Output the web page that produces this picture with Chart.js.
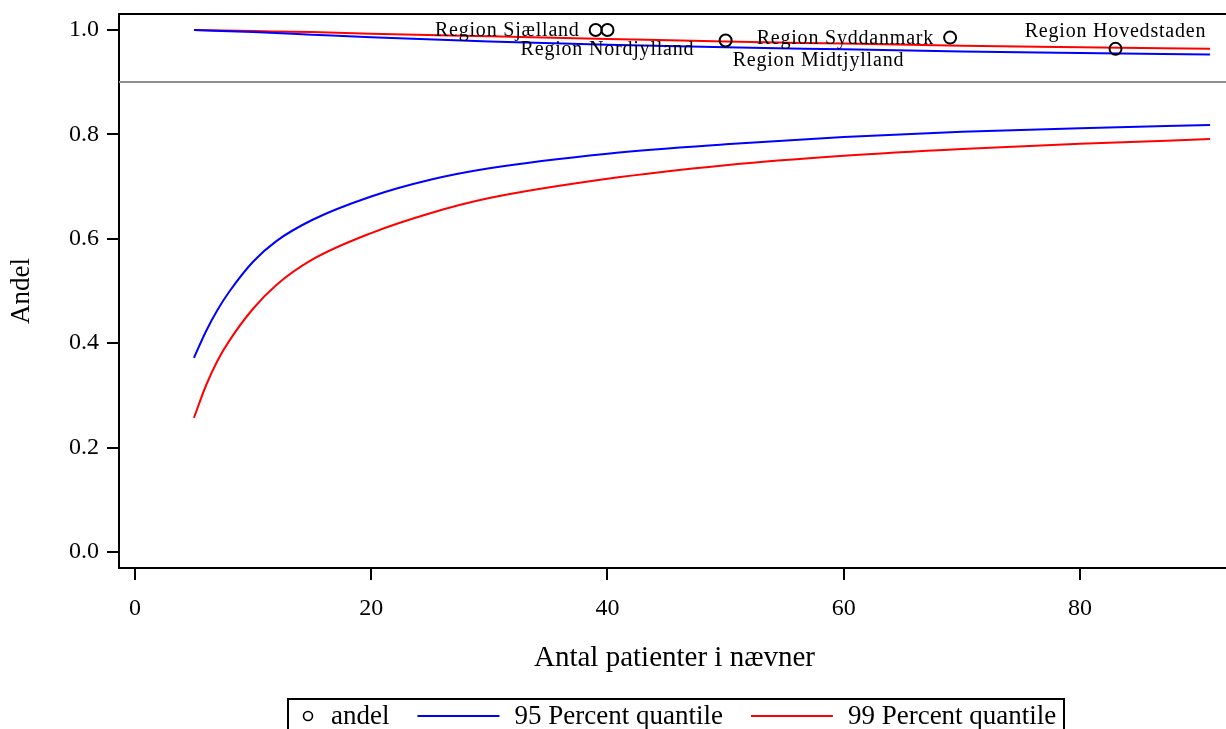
<!DOCTYPE html>
<html><head><meta charset="utf-8">
<script src="https://cdn.jsdelivr.net/npm/chart.js@4.4.1/dist/chart.umd.min.js"></script>
<style>html,body{margin:0;padding:0;background:#fff;overflow:hidden}#wrap{width:1226px;height:729px;position:relative;overflow:hidden}canvas{display:block}</style>
</head><body><div id="wrap"><canvas id="c" width="1238" height="729"></canvas></div>
<script>
// ---- data ----
const regionNames = ['Region Sjælland', 'Region Nordjylland', 'Region Midtjylland', 'Region Syddanmark', 'Region Hovedstaden'];
const regionN = [39, 40, 50, 69, 83];
const regionAndel = [1.0, 1.0, 0.98, 0.9855, 0.9639];
const labelPlacement = ['left', 'below', 'belowRight', 'left', 'above'];

const nLower = [5, 6, 7, 8, 10, 12, 15, 20, 25, 30, 40, 50, 60, 70, 80, 91];
const lower95 = [0.372, 0.422, 0.464, 0.499, 0.556, 0.596, 0.636, 0.681, 0.713, 0.735, 0.763, 0.781, 0.795, 0.805, 0.812, 0.818];
const lower99 = [0.257, 0.318, 0.367, 0.405, 0.466, 0.512, 0.560, 0.611, 0.649, 0.678, 0.715, 0.741, 0.759, 0.772, 0.782, 0.791];

const nUpper = [5, 10, 15, 20, 30, 40, 50, 60, 70, 80, 91];
const upper95 = [1.0, 0.996, 0.991, 0.986, 0.978, 0.972, 0.967, 0.963, 0.959, 0.956, 0.953];
const upper99 = [1.0, 0.998, 0.996, 0.993, 0.988, 0.983, 0.978, 0.974, 0.970, 0.967, 0.964];

const xTickValues = [0, 20, 40, 60, 80];
const yTickValues = [0.0, 0.2, 0.4, 0.6, 0.8, 1.0];
const targetValue = 0.9;
const seriesLabels = ['andel', '95 Percent quantile', '99 Percent quantile'];

// ---- helpers ----
const FONT = '"Liberation Serif", "Times New Roman", serif';
const toXY = (xs, ys) => xs.map((x, i) => ({x: x, y: ys[i]}));
const BLUE = '#0000ff', RED = '#ff0000';

const lineDs = (label, xs, ys, color) => ({
  label: label, data: toXY(xs, ys), showLine: true, borderColor: color, backgroundColor: color,
  borderWidth: 2, pointRadius: 0, pointHoverRadius: 0, cubicInterpolationMode: 'monotone',
  fill: false, order: 2
});

const framePlugin = {
  id: 'frame',
  beforeDatasetsDraw(chart) {
    const {ctx, chartArea: a, scales: {y}} = chart;
    const py = Math.round(y.getPixelForValue(targetValue));
    ctx.save();
    ctx.strokeStyle = '#8f8f8f'; ctx.lineWidth = 2;
    ctx.beginPath(); ctx.moveTo(a.left, py); ctx.lineTo(a.right, py); ctx.stroke();
    ctx.strokeStyle = '#000'; ctx.lineWidth = 2;
    ctx.beginPath(); ctx.moveTo(a.left - 1, a.top); ctx.lineTo(a.right, a.top); ctx.stroke();
    ctx.restore();
  }
};

const labelPlugin = {
  id: 'ptlabels',
  afterDatasetsDraw(chart) {
    const {ctx} = chart;
    const meta = chart.getDatasetMeta(0);
    ctx.save();
    ctx.font = '20px ' + FONT;
    try { ctx.letterSpacing = '0.8px'; } catch (e) {}
    ctx.fillStyle = '#000';
    ctx.textBaseline = 'middle';
    meta.data.forEach((pt, i) => {
      const p = labelPlacement[i];
      let x = pt.x, y = pt.y;
      if (p === 'left') { ctx.textAlign = 'right'; x -= 16; y += 1; }
      else if (p === 'below') { ctx.textAlign = 'center'; y += 20; }
      else if (p === 'belowRight') { ctx.textAlign = 'left'; x += 7; y += 20; }
      else { ctx.textAlign = 'center'; y -= 17; }
      ctx.fillText(regionNames[i], x, y);
    });
    ctx.restore();
  }
};

const legendPlugin = {
  id: 'boxlegend',
  afterDraw(chart) {
    const {ctx} = chart;
    ctx.save();
    ctx.font = '27px ' + FONT;
    ctx.textBaseline = 'middle';
    ctx.fillStyle = '#000';
    const items = [
      {type: 'marker', text: seriesLabels[0], color: '#000'},
      {type: 'line', text: seriesLabels[1], color: BLUE},
      {type: 'line', text: seriesLabels[2], color: RED}
    ];
    const padL = 14, padR = 8, symMarker = 14, symLine = 82, symGap = 15, itemGap = 28;
    let total = padL + padR;
    items.forEach((it, i) => {
      total += (it.type === 'marker' ? symMarker : symLine) + symGap + ctx.measureText(it.text).width;
      if (i < items.length - 1) total += itemGap;
    });
    const cx = 676.5;
    const left = Math.round(cx - total / 2), top = 699, cy = 716;
    ctx.strokeStyle = '#000'; ctx.lineWidth = 2;
    ctx.strokeRect(left, top, Math.round(total), 60);
    let x = left + padL;
    items.forEach((it) => {
      if (it.type === 'marker') {
        ctx.beginPath(); ctx.lineWidth = 1.6; ctx.strokeStyle = '#000';
        ctx.arc(x + 6, cy, 4.5, 0, Math.PI * 2); ctx.stroke();
        x += symMarker + symGap;
      } else {
        ctx.beginPath(); ctx.lineWidth = 2; ctx.strokeStyle = it.color;
        ctx.moveTo(x, cy); ctx.lineTo(x + symLine, cy); ctx.stroke();
        x += symLine + symGap;
      }
      ctx.textAlign = 'left';
      ctx.fillText(it.text, x, cy + 1);
      x += ctx.measureText(it.text).width + itemGap;
    });
    ctx.restore();
  }
};

const zeroPad = s => { s.paddingTop = 0; s.paddingBottom = 0; s.paddingLeft = 0; s.paddingRight = 0; };

new Chart(document.getElementById('c'), {
  type: 'scatter',
  data: {
    datasets: [
      {label: seriesLabels[0], data: toXY(regionN, regionAndel), pointStyle: 'circle', pointRadius: 6,
       pointHoverRadius: 6, borderColor: '#000', backgroundColor: 'rgba(0,0,0,0)', borderWidth: 2, showLine: false, order: 1},
      lineDs(seriesLabels[1], nLower, lower95, BLUE),
      lineDs(seriesLabels[1] + ' (upper)', nUpper, upper95, BLUE),
      lineDs(seriesLabels[2], nLower, lower99, RED),
      lineDs(seriesLabels[2] + ' (upper)', nUpper, upper99, RED)
    ]
  },
  options: {
    responsive: false, animation: false, devicePixelRatio: 1,
    layout: {padding: {top: 14, right: 0, left: 0, bottom: 0}},
    plugins: {legend: {display: false}, tooltip: {enabled: false}, title: {display: false}},
    scales: {
      x: {
        type: 'linear', min: -1.345, max: 92.69,
        afterBuildTicks: s => { s.ticks = xTickValues.map(v => ({value: v})); },
        afterFit: s => { s.height = 161; zeroPad(s); },
        ticks: {font: {family: FONT, size: 24}, color: '#000', padding: 14, maxRotation: 0},
        grid: {display: true, drawOnChartArea: false, drawTicks: true, tickLength: 12, lineWidth: 2, color: '#000'},
        border: {display: true, color: '#000', width: 2},
        title: {display: true, text: 'Antal patienter i nævner', color: '#000',
                font: {family: FONT, size: 29, lineHeight: 1.2}, padding: {top: 0, bottom: 53}}
      },
      y: {
        type: 'linear', min: -0.0307, max: 1.0307,
        afterBuildTicks: s => { s.ticks = yTickValues.map(v => ({value: v})); },
        afterFit: s => { s.width = 119; zeroPad(s); },
        ticks: {font: {family: FONT, size: 24}, color: '#000', padding: 8, callback: v => Number(v).toFixed(1)},
        grid: {display: true, drawOnChartArea: false, drawTicks: true, tickLength: 12, lineWidth: 2, color: '#000'},
        border: {display: true, color: '#000', width: 2},
        title: {display: true, text: 'Andel', color: '#000',
                font: {family: FONT, size: 27, lineHeight: 1.2}, padding: {top: 6, bottom: 0}}
      }
    }
  },
  plugins: [framePlugin, labelPlugin, legendPlugin]
});
</script>
</body></html>
